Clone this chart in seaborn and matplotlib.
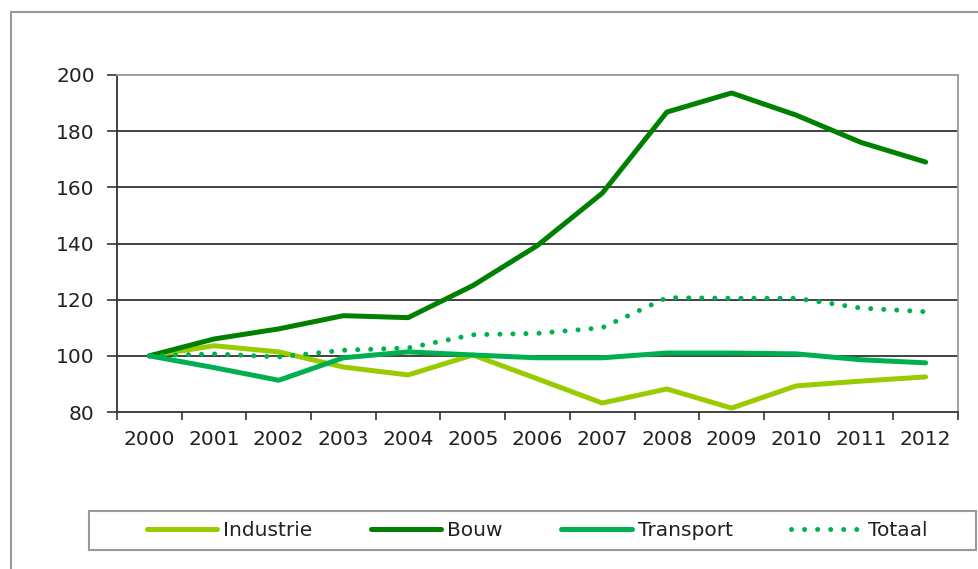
import pandas as pd
import numpy as np
import matplotlib.pyplot as plt
import matplotlib.patches as mpatches
from matplotlib.lines import Line2D
import seaborn as sns

years = ['2000', '2001', '2002', '2003', '2004', '2005', '2006',
         '2007', '2008', '2009', '2010', '2011', '2012']
industrie = [100, 103.6, 101.4, 96.0, 93.2, 100.3, 91.8, 83.2, 88.2, 81.4, 89.3, 91.0, 92.5]
bouw = [100, 106.0, 109.6, 114.3, 113.6, 125.0, 139.3, 157.9, 186.8, 193.6, 185.7, 176.0, 169.0]
transport = [100, 95.8, 91.3, 99.3, 101.4, 100.3, 99.3, 99.3, 101.0, 101.0, 100.7, 98.6, 97.5]
totaal = [100, 100.7, 99.6, 102.0, 102.8, 107.5, 108.0, 110.0, 120.7, 120.5, 120.5, 117.0, 115.7]

series_names = ['Industrie', 'Bouw', 'Transport', 'Totaal']
colors = {'Industrie': '#99CC00', 'Bouw': '#008000',
          'Transport': '#00B050', 'Totaal': '#00B050'}

df = pd.DataFrame({
    'jaar': years * 4,
    'index': industrie + bouw + transport + totaal,
    'reeks': np.repeat(series_names, len(years)),
})

sns.set_theme(style='white')
plt.rcParams['font.family'] = ['DejaVu Sans']

fig = plt.figure(figsize=(9.79, 5.69), dpi=100)
ax = fig.add_axes([117 / 979, 1 - 412 / 569, (958 - 117) / 979, (412 - 75) / 569])

sns.lineplot(data=df, x='jaar', y='index', hue='reeks', style='reeks',
             palette=colors, dashes={'Industrie': '', 'Bouw': '', 'Transport': '',
                                     'Totaal': (0.01, 2.6)},
             linewidth=3.6, legend=False, ax=ax, sort=False)
for ln in ax.get_lines():
    ln.set_dash_capstyle('round')
    ln.set_solid_capstyle('round')
    ln.set_solid_joinstyle('round')

ax.set_xlim(-0.5, len(years) - 0.5)
ax.set_ylim(80, 200)
ax.set_yticks(np.arange(80, 201, 20))
for y in np.arange(100, 200, 20):
    ax.axhline(y, color='#222222', lw=1.2, zorder=0)

# ticks between categories, labels centred on them
ax.set_xticks(np.arange(-0.5, len(years), 1))
ax.set_xticklabels([])
ax.set_xticks(np.arange(len(years)), minor=True)
ax.set_xticklabels(years, minor=True)
ax.tick_params(axis='x', which='major', direction='out', length=6, width=1.2,
               color='#333333', bottom=True)
ax.tick_params(axis='x', which='minor', length=0, pad=13, labelsize=14.5,
               labelcolor='#222222')
ax.tick_params(axis='y', direction='out', length=7, width=1.2, color='#333333',
               left=True, labelsize=14.5, labelcolor='#222222', pad=9)
ax.set_xlabel('')
ax.set_ylabel('')

for side in ['left', 'bottom']:
    ax.spines[side].set_color('#333333')
    ax.spines[side].set_linewidth(1.3)
for side in ['top', 'right']:
    ax.spines[side].set_color('#999999')
    ax.spines[side].set_linewidth(1.3)

# outer chart frame
fig.patches.append(mpatches.Rectangle((11 / 979, -0.2), 1.2, 1.2 - 12 / 569,
                                      transform=fig.transFigure, fill=False,
                                      edgecolor='#999999', lw=1.5))

# legend box
fig.patches.append(mpatches.Rectangle((89 / 979, 1 - 550 / 569), (976 - 89) / 979,
                                      (550 - 511) / 569, transform=fig.transFigure,
                                      fill=False, edgecolor='#999999', lw=1.5))
handles = []
for name in series_names:
    if name == 'Totaal':
        h = Line2D([], [], color=colors[name], lw=3.6, linestyle=(0, (0.01, 2.6)),
                   dash_capstyle='round')
    else:
        h = Line2D([], [], color=colors[name], lw=3.6, solid_capstyle='round')
    handles.append(h)
fig.legend(handles, series_names, loc='center', bbox_to_anchor=(537 / 979, 1 - 531 / 569),
           ncol=4, frameon=False, fontsize=14.5, handlelength=3.5, handletextpad=0.3,
           columnspacing=2.9, labelcolor='#222222')

fig.savefig('out.png', dpi=100)
